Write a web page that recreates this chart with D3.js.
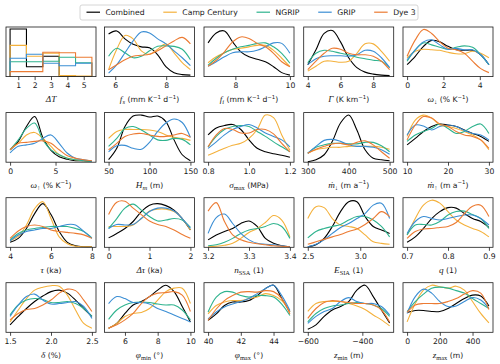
<!DOCTYPE html>
<html><head><meta charset="utf-8">
<script src="https://cdn.jsdelivr.net/npm/d3@7"></script>
<style>body{margin:0;background:#fff} svg{display:block}</style>
</head><body><svg id="c" width="500" height="364"></svg>
<script>
// ---------- series ----------
const seriesNames = ["Combined", "Camp Century", "NGRIP", "GRIP", "Dye 3"];
const seriesColors = ["#000000", "#f4b13c", "#2fb38e", "#3b8ed4", "#ec7b33"];

// ---------- ΔT histogram (relative density per bin) ----------
const histCenters = [1, 2, 3, 4, 5];
const histTicks = ["1", "2", "3", "4", "5"];
const histCombined = [0.96, 0.20, 0.41, 0.0, 0.0];
const histCamp = [0.63, 0.41, 0.47, 0.02, 0.01];
const histNGRIP = [0.30, 0.30, 0.31, 0.39, 0.28];
const histGRIP = [0.37, 0.45, 0.27, 0.22, 0.27];
const histDye3 = [0.10, 0.10, 0.49, 0.48, 0.39];

// ---------- KDE panels: data range, tick labels, densities (Combined, Camp, NGRIP, GRIP, Dye 3) ----------
const fsRange = [5.74, 8.95]; const fsTicks = ["6", "8"];
const fsDensity = [
  [0.86,0.92,0.76,0.65,0.60,0.58,0.44,0.20,0.08,0.04,0.03],
  [0.14,0.55,0.83,0.76,0.52,0.45,0.55,0.66,0.48,0.28,0.14],
  [0.41,0.57,0.48,0.38,0.41,0.52,0.61,0.62,0.61,0.55,0.34],
  [0.07,0.24,0.48,0.72,0.90,0.88,0.76,0.66,0.52,0.38,0.22],
  [0.14,0.24,0.34,0.41,0.43,0.45,0.52,0.62,0.72,0.79,0.66]];
const fiRange = [7, 10]; const fiTicks = ["8", "10"];
const fiDensity = [
  [0.68,0.88,0.92,0.70,0.50,0.40,0.35,0.30,0.20,0.08,0.03],
  [0.28,0.40,0.48,0.55,0.57,0.60,0.63,0.63,0.53,0.37,0.20],
  [0.23,0.37,0.48,0.55,0.60,0.63,0.67,0.68,0.60,0.47,0.27],
  [0.21,0.30,0.40,0.48,0.50,0.50,0.53,0.60,0.68,0.67,0.47],
  [0.21,0.33,0.50,0.70,0.80,0.77,0.67,0.60,0.47,0.30,0.20]];
const gammaRange = [4, 9]; const gammaTicks = ["4", "6", "8"];
const gammaDensity = [
  [0.24,0.54,0.87,0.93,0.70,0.38,0.18,0.09,0.05,0.03,0.02],
  [0.11,0.21,0.31,0.31,0.29,0.31,0.47,0.66,0.66,0.51,0.31],
  [0.28,0.47,0.53,0.51,0.47,0.44,0.39,0.36,0.33,0.31,0.18],
  [0.24,0.36,0.41,0.42,0.42,0.41,0.44,0.53,0.51,0.38,0.18],
  [0.14,0.31,0.47,0.57,0.55,0.47,0.44,0.44,0.41,0.31,0.14]];
const wdRange = [0, 4.5]; const wdTicks = ["0", "2", "4"];
const wdDensity = [
  [0.24,0.41,0.61,0.73,0.70,0.61,0.54,0.53,0.53,0.44,0.24],
  [0.38,0.51,0.55,0.54,0.53,0.49,0.46,0.46,0.51,0.47,0.38],
  [0.31,0.54,0.68,0.64,0.59,0.55,0.59,0.62,0.59,0.44,0.24],
  [0.34,0.54,0.70,0.74,0.64,0.55,0.57,0.54,0.54,0.44,0.24],
  [0.41,0.74,0.95,0.87,0.70,0.57,0.54,0.47,0.31,0.16,0.08]];
const wuRange = [0, 9]; const wuTicks = ["0", "5"];
const wuDensity = [
  [0.25,0.42,0.72,0.92,0.50,0.24,0.11,0.06,0.03,0.03,0.02],
  [0.26,0.38,0.55,0.60,0.48,0.32,0.15,0.08,0.05,0.03,0.01],
  [0.25,0.45,0.68,0.79,0.45,0.25,0.15,0.08,0.05,0.03,0.01],
  [0.19,0.32,0.35,0.38,0.48,0.55,0.38,0.18,0.08,0.05,0.02],
  [0.25,0.38,0.40,0.42,0.43,0.38,0.25,0.13,0.08,0.05,0.03]];
const hmRange = [50, 150]; const hmTicks = ["50", "100", "150"];
const hmDensity = [
  [0.05,0.28,0.72,0.93,0.95,0.91,0.93,0.82,0.45,0.15,0.03],
  [0.48,0.62,0.66,0.66,0.66,0.65,0.62,0.55,0.50,0.48,0.44],
  [0.32,0.48,0.68,0.72,0.65,0.55,0.45,0.44,0.48,0.46,0.35],
  [0.21,0.33,0.34,0.28,0.26,0.40,0.62,0.79,0.87,0.80,0.50],
  [0.25,0.38,0.52,0.57,0.58,0.55,0.52,0.52,0.55,0.58,0.50]];
const smRange = [0.8, 1.2]; const smTicks = ["0.8", "1.0", "1.2"];
const smDensity = [
  [0.55,0.69,0.74,0.76,0.66,0.45,0.28,0.21,0.17,0.14,0.10],
  [0.14,0.21,0.28,0.34,0.38,0.48,0.66,0.95,0.90,0.55,0.24],
  [0.31,0.52,0.66,0.72,0.74,0.72,0.62,0.52,0.41,0.31,0.21],
  [0.28,0.41,0.55,0.66,0.72,0.76,0.69,0.59,0.52,0.45,0.31],
  [0.31,0.55,0.68,0.66,0.59,0.59,0.66,0.66,0.57,0.38,0.21]];
const mdRange = [300, 500]; const mdTicks = ["300", "400", "500"];
const mdDensity = [
  [0.01,0.05,0.15,0.42,0.79,0.95,0.65,0.25,0.08,0.05,0.03],
  [0.18,0.25,0.28,0.30,0.30,0.32,0.32,0.32,0.32,0.30,0.26],
  [0.18,0.30,0.35,0.38,0.38,0.37,0.37,0.40,0.40,0.33,0.21],
  [0.18,0.32,0.44,0.46,0.42,0.35,0.32,0.32,0.30,0.25,0.16],
  [0.18,0.26,0.32,0.37,0.38,0.35,0.40,0.43,0.35,0.21,0.08]];
const muRange = [10, 30]; const muTicks = ["10", "20", "30"];
const muDensity = [
  [0.35,0.48,0.62,0.72,0.77,0.75,0.72,0.65,0.58,0.52,0.42],
  [0.52,0.85,0.95,0.89,0.75,0.72,0.68,0.62,0.55,0.45,0.25],
  [0.42,0.55,0.62,0.68,0.77,0.68,0.58,0.62,0.72,0.77,0.58],
  [0.55,0.75,0.73,0.65,0.72,0.75,0.72,0.64,0.58,0.55,0.45],
  [0.45,0.75,0.92,0.89,0.77,0.72,0.62,0.55,0.52,0.45,0.28]];
const tauRange = [4, 8]; const tauTicks = ["4", "6", "8"];
const tauDensity = [
  [0.10,0.18,0.38,0.68,0.88,0.66,0.32,0.10,0.03,0.01,0.01],
  [0.13,0.22,0.45,0.78,0.92,0.58,0.21,0.07,0.02,0.01,0.01],
  [0.15,0.28,0.35,0.38,0.40,0.42,0.42,0.42,0.38,0.32,0.19],
  [0.13,0.25,0.32,0.35,0.38,0.38,0.42,0.46,0.45,0.32,0.18],
  [0.18,0.33,0.42,0.45,0.42,0.35,0.32,0.30,0.28,0.25,0.18]];
const dtauRange = [0, 2]; const dtauTicks = ["0", "1", "2"];
const dtauDensity = [
  [0.19,0.28,0.38,0.52,0.72,0.85,0.88,0.84,0.75,0.58,0.35],
  [0.42,0.42,0.42,0.45,0.58,0.73,0.77,0.77,0.72,0.58,0.35],
  [0.38,0.58,0.79,0.87,0.75,0.62,0.53,0.55,0.58,0.55,0.40],
  [0.38,0.46,0.45,0.46,0.58,0.72,0.79,0.79,0.73,0.58,0.38],
  [0.66,0.91,0.93,0.79,0.66,0.53,0.46,0.42,0.35,0.26,0.18]];
const nRange = [3.2, 3.4]; const nTicks = ["3.2", "3.3", "3.4"];
const nDensity = [
  [0.15,0.25,0.32,0.38,0.48,0.53,0.42,0.18,0.08,0.03,0.01],
  [0.01,0.02,0.04,0.08,0.18,0.30,0.38,0.50,0.64,0.55,0.21],
  [0.03,0.05,0.10,0.18,0.28,0.35,0.38,0.42,0.48,0.42,0.18],
  [0.28,0.60,0.67,0.48,0.28,0.15,0.08,0.06,0.05,0.03,0.01],
  [0.73,0.90,0.52,0.25,0.15,0.10,0.07,0.05,0.03,0.02,0.01]];
const eRange = [2.5, 3.28]; const eTicks = ["2.5", "3.0"];
const eDensity = [
  [0.01,0.05,0.18,0.42,0.72,0.92,0.92,0.62,0.42,0.35,0.28],
  [0.58,0.82,0.80,0.58,0.45,0.42,0.38,0.25,0.11,0.08,0.06],
  [0.19,0.32,0.38,0.42,0.46,0.55,0.62,0.62,0.55,0.42,0.21],
  [0.01,0.06,0.15,0.28,0.40,0.48,0.58,0.68,0.85,0.89,0.58],
  [0.06,0.11,0.16,0.21,0.26,0.32,0.37,0.46,0.58,0.72,0.62]];
const qRange = [0.7, 0.9]; const qTicks = ["0.7", "0.8", "0.9"];
const qDensity = [
  [0.10,0.21,0.38,0.58,0.72,0.80,0.79,0.68,0.58,0.52,0.40],
  [0.25,0.58,0.85,0.95,0.89,0.72,0.55,0.45,0.38,0.32,0.21],
  [0.25,0.45,0.46,0.45,0.52,0.65,0.72,0.73,0.66,0.58,0.38],
  [0.28,0.52,0.62,0.58,0.55,0.58,0.62,0.65,0.65,0.58,0.45],
  [0.18,0.32,0.37,0.38,0.40,0.42,0.50,0.68,0.83,0.85,0.62]];
const deltaRange = [1.5, 2.5]; const deltaTicks = ["1.5", "2.0", "2.5"];
const deltaDensity = [
  [0.15,0.32,0.48,0.62,0.73,0.82,0.85,0.79,0.65,0.48,0.32],
  [0.21,0.45,0.68,0.85,0.91,0.94,0.93,0.75,0.45,0.18,0.08],
  [0.35,0.55,0.65,0.68,0.66,0.60,0.60,0.62,0.58,0.48,0.32],
  [0.32,0.55,0.72,0.77,0.65,0.57,0.58,0.60,0.62,0.52,0.28],
  [0.25,0.38,0.46,0.48,0.55,0.65,0.79,0.87,0.84,0.65,0.42]];
const phiMinRange = [5, 10]; const phiMinTicks = ["6", "8", "10"];
const phiMinDensity = [
  [0.08,0.18,0.38,0.55,0.62,0.72,0.85,0.95,0.82,0.52,0.21],
  [0.08,0.18,0.32,0.38,0.40,0.48,0.65,0.82,0.89,0.89,0.58],
  [0.26,0.45,0.55,0.60,0.61,0.60,0.57,0.55,0.55,0.45,0.25],
  [0.58,0.72,0.68,0.60,0.60,0.57,0.48,0.42,0.35,0.28,0.21],
  [0.08,0.15,0.25,0.38,0.58,0.72,0.79,0.80,0.82,0.75,0.42]];
const phiMaxRange = [40, 45]; const phiMaxTicks = ["40", "42", "44"];
const phiMaxDensity = [
  [0.24,0.37,0.54,0.61,0.61,0.64,0.74,0.88,0.95,0.68,0.41],
  [0.37,0.54,0.61,0.64,0.64,0.68,0.71,0.78,0.74,0.64,0.41],
  [0.41,0.71,0.82,0.81,0.74,0.71,0.74,0.74,0.71,0.57,0.34],
  [0.27,0.41,0.51,0.57,0.62,0.68,0.78,0.88,0.95,0.74,0.44],
  [0.24,0.47,0.64,0.74,0.81,0.82,0.81,0.84,0.82,0.68,0.37]];
const zMinRange = [-600, -300]; const zMinTicks = ["\u2212600", "\u2212400"];
const zMinDensity = [
  [0.06,0.15,0.32,0.45,0.52,0.62,0.85,0.95,0.72,0.45,0.19],
  [0.42,0.58,0.62,0.62,0.62,0.58,0.53,0.46,0.35,0.25,0.13],
  [0.21,0.38,0.48,0.53,0.55,0.58,0.60,0.58,0.55,0.48,0.32],
  [0.18,0.32,0.42,0.48,0.62,0.70,0.62,0.58,0.58,0.52,0.35],
  [0.28,0.48,0.60,0.64,0.62,0.60,0.58,0.58,0.55,0.45,0.21]];
const zMaxRange = [0, 500]; const zMaxTicks = ["0", "200", "400"];
const zMaxDensity = [
  [0.40,0.44,0.44,0.42,0.42,0.48,0.58,0.68,0.75,0.73,0.53],
  [0.21,0.58,0.85,0.95,0.92,0.89,0.93,0.85,0.62,0.38,0.19],
  [0.42,0.62,0.77,0.89,0.91,0.89,0.84,0.79,0.68,0.58,0.48],
  [0.38,0.72,0.87,0.79,0.62,0.52,0.53,0.62,0.70,0.65,0.48],
  [0.40,0.55,0.58,0.58,0.58,0.62,0.68,0.77,0.84,0.79,0.46]];

// ---------- axis labels: [text, kind] ; m=math italic, ms=math subscript, n=normal, sup=superscript ----------
const labelDT = [["\u0394T","m"]];
const labelFs = [["f","m"],["s","ms"],[" (mm K","n"],["\u22121","sup"],[" d","n"],["\u22121","sup"],[")","n"]];
const labelFi = [["f","m"],["i","ms"],[" (mm K","n"],["\u22121","sup"],[" d","n"],["\u22121","sup"],[")","n"]];
const labelGamma = [["\u0393","m"],[" (K km","n"],["\u22121","sup"],[")","n"]];
const labelWd = [["\u03c9","m"],["\u2193","ms"],[" (% K","n"],["\u22121","sup"],[")","n"]];
const labelWu = [["\u03c9","m"],["\u2191","ms"],[" (% K","n"],["\u22121","sup"],[")","n"]];
const labelHm = [["H","m"],["m","ms"],[" (m)","n"]];
const labelSm = [["\u03c3","m"],["max","msr"],[" (MPa)","n"]];
const labelMd = [["\u1e41","m"],["\u2193","ms"],[" (m a","n"],["\u22121","sup"],[")","n"]];
const labelMu = [["\u1e41","m"],["\u2191","ms"],[" (m a","n"],["\u22121","sup"],[")","n"]];
const labelTau = [["\u03c4","m"],[" (ka)","n"]];
const labelDtau = [["\u0394\u03c4","m"],[" (ka)","n"]];
const labelN = [["n","m"],["SSA","msr"],[" (1)","n"]];
const labelE = [["E","m"],["SIA","msr"],[" (1)","n"]];
const labelQ = [["q","m"],[" (1)","n"]];
const labelDelta = [["\u03b4","m"],[" (%)","n"]];
const labelPhiMin = [["\u03c6","m"],["min","msr"],[" (\u00b0)","n"]];
const labelPhiMax = [["\u03c6","m"],["max","msr"],[" (\u00b0)","n"]];
const labelZMin = [["z","m"],["min","msr"],[" (m)","n"]];
const labelZMax = [["z","m"],["max","msr"],[" (m)","n"]];

const kdePanels = [
  {range: fsRange, ticks: fsTicks, dens: fsDensity, label: labelFs},
  {range: fiRange, ticks: fiTicks, dens: fiDensity, label: labelFi},
  {range: gammaRange, ticks: gammaTicks, dens: gammaDensity, label: labelGamma},
  {range: wdRange, ticks: wdTicks, dens: wdDensity, label: labelWd},
  {range: wuRange, ticks: wuTicks, dens: wuDensity, label: labelWu},
  {range: hmRange, ticks: hmTicks, dens: hmDensity, label: labelHm},
  {range: smRange, ticks: smTicks, dens: smDensity, label: labelSm},
  {range: mdRange, ticks: mdTicks, dens: mdDensity, label: labelMd},
  {range: muRange, ticks: muTicks, dens: muDensity, label: labelMu},
  {range: tauRange, ticks: tauTicks, dens: tauDensity, label: labelTau},
  {range: dtauRange, ticks: dtauTicks, dens: dtauDensity, label: labelDtau},
  {range: nRange, ticks: nTicks, dens: nDensity, label: labelN},
  {range: eRange, ticks: eTicks, dens: eDensity, label: labelE},
  {range: qRange, ticks: qTicks, dens: qDensity, label: labelQ},
  {range: deltaRange, ticks: deltaTicks, dens: deltaDensity, label: labelDelta},
  {range: phiMinRange, ticks: phiMinTicks, dens: phiMinDensity, label: labelPhiMin},
  {range: phiMaxRange, ticks: phiMaxTicks, dens: phiMaxDensity, label: labelPhiMax},
  {range: zMinRange, ticks: zMinTicks, dens: zMinDensity, label: labelZMin},
  {range: zMaxRange, ticks: zMaxTicks, dens: zMaxDensity, label: labelZMax}
];

// ---------- layout ----------
const colX = [6, 104.5, 204, 303.7, 403];
const rowY = [27, 112.6, 197.7, 282.7];
const PW = 90, PH = 49.6;
const SANS = "DejaVu Sans", SERIF = "Liberation Serif";
const FS = 7.7;
const ink = "#1a1a1a";

const svg = d3.select("#c");
svg.append("rect").attr("width", 500).attr("height", 364).attr("fill", "#fff");
const defs = svg.append("defs");

function num(s) { return +String(s).replace("\u2212", "-"); }

function drawLabel(g, cx, y, segs) {
  const t = g.append("text").attr("x", cx).attr("y", y).attr("text-anchor", "middle").attr("fill", ink);
  let cur = 0;
  segs.forEach(([txt, kind]) => {
    let shift = 0, fam = SANS, size = FS, style = "normal";
    if (kind === "m") { fam = SERIF; size = 9.2; style = "italic"; }
    else if (kind === "ms") { fam = SERIF; size = 6.6; style = "italic"; shift = 2.0; }
    else if (kind === "msr") { fam = SERIF; size = 6.4; style = "normal"; shift = 2.0; }
    else if (kind === "sup") { size = 5.4; shift = -3.2; }
    t.append("tspan").attr("dy", shift - cur).attr("font-family", fam)
      .attr("font-size", size).attr("font-style", style).text(txt);
    cur = shift;
  });
}

function panel(idx, domain, tickLabels, label, drawMarks) {
  const r = Math.floor(idx / 5), c = idx % 5;
  const x0 = colX[c], y0 = rowY[r];
  const x = d3.scaleLinear().domain(domain).range([x0, x0 + PW]);
  const y = d3.scaleLinear().domain([0, 1]).range([y0 + PH, y0]);
  const g = svg.append("g");
  const cid = "clip" + idx;
  defs.append("clipPath").attr("id", cid).append("rect")
    .attr("x", x0).attr("y", y0).attr("width", PW).attr("height", PH);
  const mg = g.append("g").attr("clip-path", `url(#${cid})`);
  drawMarks(mg, x, y);
  // x axis
  const tv = tickLabels.map(num);
  const ax = d3.axisBottom(x).tickValues(tv).tickSize(3.5).tickPadding(2)
    .tickFormat((d, i) => tickLabels[i]);
  const axg = g.append("g").attr("transform", `translate(0,${y0 + PH})`).call(ax);
  axg.select(".domain").remove();
  axg.selectAll(".tick line").attr("stroke", ink).attr("stroke-width", 0.8);
  axg.selectAll(".tick text").attr("font-family", SANS).attr("font-size", FS).attr("fill", ink)
    .attr("dy", null).attr("y", 11.6);
  // frame
  g.append("rect").attr("x", x0).attr("y", y0).attr("width", PW).attr("height", PH)
    .attr("fill", "none").attr("stroke", ink).attr("stroke-width", 0.8);
  drawLabel(g, x0 + PW / 2, y0 + PH + 25.3, label);
}

// histogram panel
const histSeries = [histCombined, histCamp, histNGRIP, histGRIP, histDye3];
const bw = histCenters[1] - histCenters[0];
const hLo = histCenters[0] - bw / 2, hHi = histCenters[histCenters.length - 1] + bw / 2;
const hPad = 0.05 * (hHi - hLo);
panel(0, [hLo - hPad, hHi + hPad], histTicks, labelDT, (g, x, y) => {
  histSeries.forEach((vals, si) => {
    const pts = [[hLo, 0]];
    vals.forEach((v, i) => { pts.push([histCenters[i] - bw / 2, v]); pts.push([histCenters[i] + bw / 2, v]); });
    pts.push([hHi, 0]);
    g.append("path").attr("d", d3.line().x(d => x(d[0])).y(d => y(d[1]))(pts))
      .attr("fill", "none").attr("stroke", seriesColors[si]).attr("stroke-width", 1.1);
  });
});

// KDE panels
kdePanels.forEach((p, k) => {
  const [lo, hi] = p.range;
  const pad = 0.05 * (hi - lo);
  panel(k + 1, [lo - pad, hi + pad], p.ticks, p.label, (g, x, y) => {
    p.dens.forEach((vals, si) => {
      const n = vals.length;
      const line = d3.line()
        .x((d, i) => x(lo + i * (hi - lo) / (n - 1)))
        .y(d => y(d))
        .curve(d3.curveCatmullRom.alpha(0.5));
      g.append("path").attr("d", line(vals)).attr("fill", "none")
        .attr("stroke", seriesColors[si]).attr("stroke-width", 1.1);
    });
  });
});

// legend
const lg = svg.append("g");
const box = lg.append("rect").attr("x", 80).attr("y", 5).attr("width", 338).attr("height", 15)
  .attr("rx", 2).attr("fill", "#fff").attr("stroke", "#cccccc").attr("stroke-width", 0.8);
const handle = 13.5, tpad = 5.5, start = 86.5, end = 415.7;
const tmp = seriesNames.map(s => {
  const t = lg.append("text").attr("font-family", SANS).attr("font-size", FS).attr("fill", ink).text(s);
  return {t, w: t.node().getComputedTextLength()};
});
const tot = d3.sum(tmp, d => handle + tpad + d.w);
const cs = (end - start - tot) / (seriesNames.length - 1);
let cx = start;
tmp.forEach((d, i) => {
  lg.append("line").attr("x1", cx).attr("x2", cx + handle).attr("y1", 12.2).attr("y2", 12.2)
    .attr("stroke", seriesColors[i]).attr("stroke-width", 1.2);
  d.t.attr("x", cx + handle + tpad).attr("y", 15);
  cx += handle + tpad + d.w + cs;
});
</script></body></html>
